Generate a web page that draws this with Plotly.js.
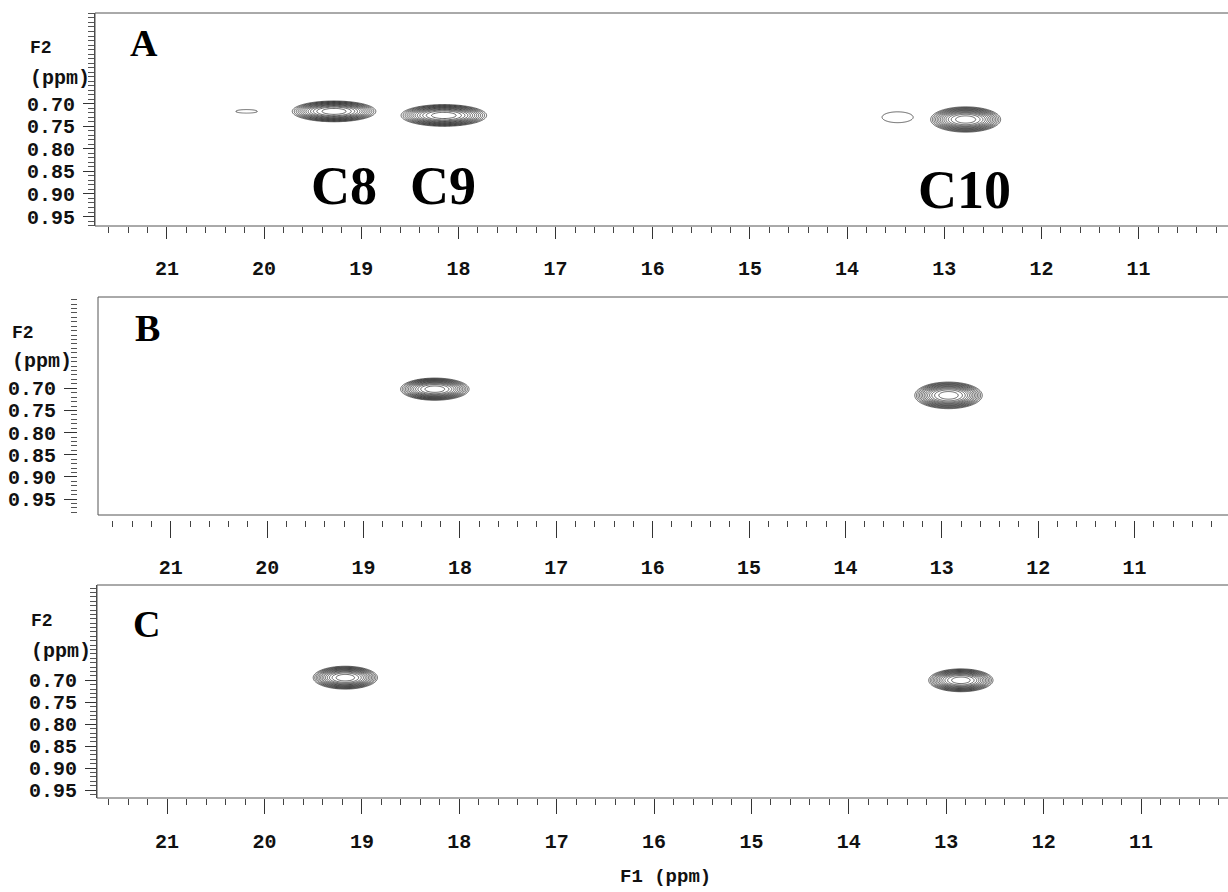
<!DOCTYPE html>
<html>
<head>
<meta charset="utf-8">
<script src="https://cdn.plot.ly/plotly-3.0.1.min.js"></script>
<style>
html,body{margin:0;padding:0;background:#fff;}
#chart{width:1228px;height:892px;}
</style>
</head>
<body>
<div id="chart"></div>
<script>
// ---------- data ----------
const F1_TICKS = [11, 12, 13, 14, 15, 16, 17, 18, 19, 20, 21];
const F2_TICKS = [0.50, 0.55, 0.60, 0.65, 0.70, 0.75, 0.80, 0.85, 0.90, 0.95];
const F2_LABELS = ['', '', '', '', '0.70', '0.75', '0.80', '0.85', '0.90', '0.95'];

// cross peaks: centre (F1, F2), half extent of the outer contour (F1, F2), relative intensity
const peaksA_F1  = [20.18, 19.28, 18.15, 13.48, 12.78];
const peaksA_F2  = [0.717, 0.717, 0.726, 0.730, 0.735];
const peaksA_wF1 = [0.11, 0.43, 0.44, 0.16, 0.36];
const peaksA_wF2 = [0.004, 0.023, 0.024, 0.012, 0.028];
const peaksA_int = [0.42, 1.0, 1.0, 0.42, 1.0];

const peaksB_F1  = [18.26, 12.93];
const peaksB_F2  = [0.702, 0.716];
const peaksB_wF1 = [0.355, 0.35];
const peaksB_wF2 = [0.025, 0.030];
const peaksB_int = [1.0, 1.0];

const peaksC_F1  = [19.17, 12.85];
const peaksC_F2  = [0.694, 0.700];
const peaksC_wF1 = [0.33, 0.33];
const peaksC_wF2 = [0.026, 0.026];
const peaksC_int = [1.0, 1.0];

const carbonLabels = ['C8', 'C9', 'C10'];
const carbonLabelF1 = [19.18, 18.16, 12.79];
const carbonLabelF2 = [0.883, 0.883, 0.892];

const panelLetters = ['A', 'B', 'C'];

// ---------- drawing ----------
const LOWEST = 0.37;   // lowest contour level
function peakTraces(f1, f2, w1, w2, amp, xa, ya) {
  const traces = [];
  for (let k = 0; k < f1.length; k++) {
    const nx = 91, ny = 51;
    const xs = [], ys = [], z = [];
    for (let i = 0; i < nx; i++) xs.push(f1[k] - 1.3 * w1[k] + 2.6 * w1[k] * i / (nx - 1));
    for (let j = 0; j < ny; j++) ys.push(f2[k] - 1.3 * w2[k] + 2.6 * w2[k] * j / (ny - 1));
    const s = Math.log(amp[k] / LOWEST);
    for (let j = 0; j < ny; j++) {
      const row = [];
      for (let i = 0; i < nx; i++) {
        const u2 = Math.pow((xs[i] - f1[k]) / w1[k], 2) + Math.pow((ys[j] - f2[k]) / w2[k], 2);
        row.push(amp[k] * Math.exp(-s * Math.pow(u2, 1.4)));
      }
      z.push(row);
    }
    traces.push({
      type: 'contour', x: xs, y: ys, z: z, xaxis: xa, yaxis: ya,
      autocontour: false,
      contours: {start: LOWEST, end: 0.99, size: 0.05, coloring: 'none'},
      line: {color: '#222', width: 0.7, smoothing: 1},
      showscale: false, hoverinfo: 'skip'
    });
  }
  return traces;
}

const data = [].concat(
  peakTraces(peaksA_F1, peaksA_F2, peaksA_wF1, peaksA_wF2, peaksA_int, 'x', 'y'),
  peakTraces(peaksB_F1, peaksB_F2, peaksB_wF1, peaksB_wF2, peaksB_int, 'x2', 'y2'),
  peakTraces(peaksC_F1, peaksC_F2, peaksC_wF1, peaksC_wF2, peaksC_int, 'x3', 'y3')
);

const W = 1228, H = 892;
const px = v => v / W;
const py = v => 1 - v / H;

const monoFont = {family: 'Liberation Mono, Courier New, monospace', size: 20, color: '#111', weight: 'bold'};
const minorX = []; for (let v = 100; v <= 220; v += 2) minorX.push(v / 10);
const minorY = []; for (let v = 48; v <= 99; v++) minorY.push(v / 100);

function xAxis(dom, range, anchor, extra) {
  return Object.assign({
    domain: dom, range: range, anchor: anchor,
    tickmode: 'array', tickvals: F1_TICKS, ticktext: F1_TICKS.map(String),
    ticks: 'outside', ticklen: 12, tickwidth: 1, tickcolor: '#333',
    minor: {tickmode: 'array', tickvals: minorX, ticks: 'outside', ticklen: 6, tickwidth: 1, tickcolor: '#444'},
    showgrid: false, zeroline: false, showline: false,
    tickfont: monoFont, ticklabelstandoff: 12, fixedrange: true
  }, extra || {});
}
function yAxis(dom, range, anchor, extra) {
  return Object.assign({
    domain: dom, range: range, anchor: anchor,
    tickmode: 'array', tickvals: F2_TICKS, ticktext: F2_LABELS,
    ticks: 'outside', ticklen: 11, tickwidth: 1, tickcolor: '#333',
    minor: {tickmode: 'array', tickvals: minorY, ticks: 'outside', ticklen: 6, tickwidth: 1, tickcolor: '#555'},
    showgrid: false, zeroline: false, showline: false,
    tickfont: monoFont, ticklabelstandoff: 4, fixedrange: true
  }, extra || {});
}

const domA = [py(226), py(13)], domB = [py(515), py(297)], domC = [py(798), py(585)];

const layout = {
  width: W, height: H,
  margin: {l: 0, r: 0, t: 0, b: 0},
  paper_bgcolor: '#fff', plot_bgcolor: '#fff',
  showlegend: false,
  xaxis:  xAxis([px(95), 1], [21.74, 10.08], 'y'),
  yaxis:  yAxis(domA, [0.971, 0.499], 'x', {showline: true, linecolor: '#444', linewidth: 1}),
  xaxis2: xAxis([px(98), 1], [21.755, 10.03], 'free', {position: py(520), ticklen: 17, ticklabelstandoff: 12}),
  yaxis2: yAxis(domB, [0.986, 0.494], 'free', {position: px(77), ticklen: 13}),
  xaxis3: xAxis([px(97), 1], [21.72, 10.107], 'y3', {ticklen: 15, ticklabelstandoff: 10}),
  yaxis3: yAxis(domC, [0.968, 0.483], 'x3', {showline: true, linecolor: '#444', linewidth: 1}),
  shapes: [],
  annotations: []
};

// panel frames
[['x', 'y'], ['x2', 'y2'], ['x3', 'y3']].forEach(([xa, ya]) => {
  layout.shapes.push({type: 'line', xref: xa + ' domain', yref: ya + ' domain', x0: 0, x1: 1, y0: 1, y1: 1, line: {color: '#555', width: 1}});
  layout.shapes.push({type: 'line', xref: xa + ' domain', yref: ya + ' domain', x0: 0, x1: 1, y0: 0, y1: 0, line: {color: '#555', width: 1}});
  layout.shapes.push({type: 'line', xref: xa + ' domain', yref: ya + ' domain', x0: 0, x1: 0, y0: 0, y1: 1, line: {color: '#555', width: 1}});
});

// panel letters
const letterPos = [[144, 43], [147, 328], [146, 624]];
panelLetters.forEach((t, i) => {
  layout.annotations.push({text: t, xref: 'paper', yref: 'paper', x: px(letterPos[i][0]), y: py(letterPos[i][1]),
    xanchor: 'center', yanchor: 'middle', showarrow: false,
    font: {family: 'Liberation Serif, Times New Roman, serif', size: 38, color: '#000', weight: 'bold'}});
});

// F2 (ppm) axis titles
const f2Pos = [[28, 48, 79], [10, 333, 362], [29, 621, 651]];
f2Pos.forEach(p => {
  layout.annotations.push({text: 'F2', xref: 'paper', yref: 'paper', x: px(p[0]), y: py(p[1]),
    xanchor: 'left', yanchor: 'middle', showarrow: false,
    font: {family: 'Liberation Mono, Courier New, monospace', size: 18, color: '#111', weight: 'bold'}});
  layout.annotations.push({text: '(ppm)', xref: 'paper', yref: 'paper', x: px(p[0]), y: py(p[2]),
    xanchor: 'left', yanchor: 'middle', showarrow: false,
    font: {family: 'Liberation Mono, Courier New, monospace', size: 20, color: '#111', weight: 'bold'}});
});

// carbon labels in panel A
carbonLabels.forEach((t, i) => {
  layout.annotations.push({text: t, xref: 'x', yref: 'y', x: carbonLabelF1[i], y: carbonLabelF2[i],
    xanchor: 'center', yanchor: 'middle', showarrow: false,
    font: {family: 'Liberation Serif, Times New Roman, serif', size: 54, color: '#000', weight: 'bold'}});
});

// F1 axis title
layout.annotations.push({text: 'F1 (ppm)', xref: 'paper', yref: 'paper', x: px(665), y: py(877),
  xanchor: 'center', yanchor: 'middle', showarrow: false,
  font: {family: 'Liberation Mono, Courier New, monospace', size: 19, color: '#111', weight: 'bold'}});

Plotly.newPlot('chart', data, layout, {staticPlot: true, displayModeBar: false});
</script>
</body>
</html>
